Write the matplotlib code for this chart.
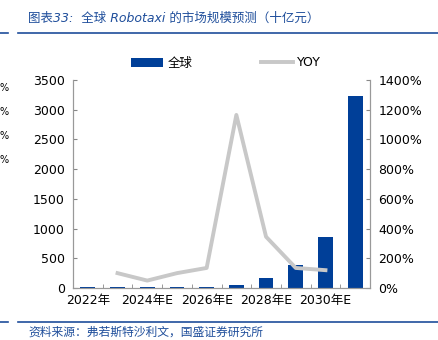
import matplotlib
matplotlib.use("Agg")
import matplotlib.pyplot as plt
import numpy as np

plt.rcParams['font.family'] = ['DejaVu Sans', 'Noto Sans CJK SC']

years = ['2022年', '2023年', '2024年E', '2025年E', '2026年E',
         '2027年E', '2028年E', '2029年E', '2030年E', '2031年E']
market = [12, 12, 12, 12, 20, 55, 175, 390, 860, 3235]
yoy = [np.nan, 100, 50, 100, 135, 1165, 345, 135, 120, np.nan]  # %

blue = '#003F98'
grey = '#C8C8C8'
title_blue = '#1F4E9B'

fig = plt.figure(figsize=(4.39, 3.40), dpi=100)
ax = fig.add_axes([73/439, 1-288/340, (370-73)/439, (288-80)/340])
ax2 = ax.twinx()

x = np.arange(len(years))
b = ax.bar(x, market, width=0.5, color=blue, label='全球', zorder=2)
l, = ax2.plot(x, np.array(yoy) / 100, color=grey, lw=2.8, label='YOY', zorder=3)

ax.set_xlim(-0.5, len(years) - 0.5)
ax.set_ylim(0, 3500)
ax.set_yticks(np.arange(0, 3501, 500))
ax2.set_ylim(0, 14)
ax2.set_yticks(np.arange(0, 15, 2))
ax2.set_yticklabels([f'{v*100}%' for v in range(0, 15, 2)])

ax.set_xticks(x[::2])
ax.set_xticklabels(years[::2])
ax.set_xticks(np.arange(-0.5, len(years), 1), minor=True)
ax.tick_params(axis='x', which='major', length=0, labelsize=9, pad=4)
ax.tick_params(axis='x', which='minor', length=3, direction='in', color='#888888')
ax.tick_params(axis='y', length=3, direction='in', color='#888888', labelsize=9, pad=6)
ax2.tick_params(axis='y', length=3, direction='in', color='#888888', labelsize=9, pad=6)

for a in (ax, ax2):
    a.spines['top'].set_visible(False)
    for s in ('left', 'right', 'bottom'):
        a.spines[s].set_color('#999999')
        a.spines[s].set_linewidth(0.8)

fig.legend([b, l], ['全球', 'YOY'], loc='center', bbox_to_anchor=(226/439, 1-63/340),
           ncol=2, frameon=False, fontsize=9, handlelength=2.6, columnspacing=5.5,
           handletextpad=0.3)

# title and source
fig.text(28/439, 1-18/340, '图表33:  全球 Robotaxi 的市场规模预测（十亿元）', color=title_blue,
         fontsize=9, style='italic', va='center', ha='left')
fig.add_artist(plt.Line2D([18/439, 1], [1-33/340]*2, color=title_blue, lw=1.2))
fig.add_artist(plt.Line2D([0, 8/439], [1-33/340]*2, color=title_blue, lw=1.2))
fig.add_artist(plt.Line2D([18/439, 1], [1-322/340]*2, color=title_blue, lw=1.2))
fig.add_artist(plt.Line2D([0, 8/439], [1-322/340]*2, color=title_blue, lw=1.2))
fig.text(28/439, 1-332/340, '资料来源：弗若斯特沙利文，国盛证券研究所', color=title_blue,
         fontsize=8.5, style='italic', va='center', ha='left')

# percent signs from the neighbouring chart at the left edge
for yy in (88, 112, 136, 160):
    fig.text(0, 1-yy/340, '%', fontsize=7, va='center', ha='left')

fig.savefig('out.png', dpi=100)
